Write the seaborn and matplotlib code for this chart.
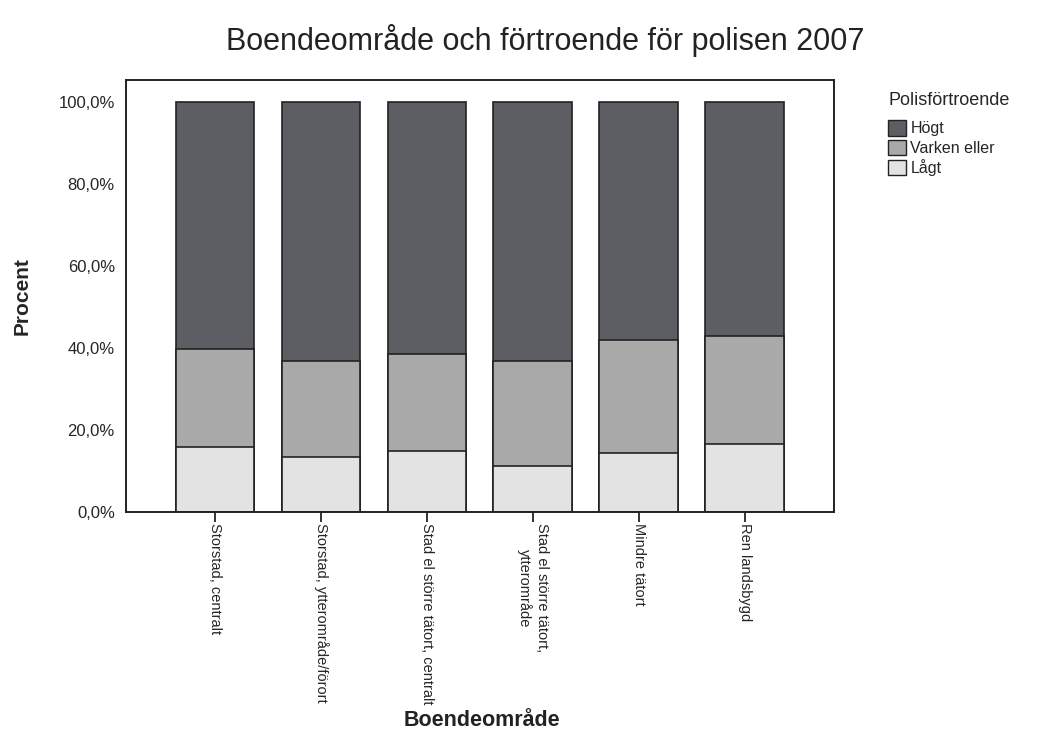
import matplotlib
matplotlib.use('Agg')
import matplotlib.pyplot as plt
import seaborn as sns
import pandas as pd
from matplotlib.ticker import FuncFormatter
from matplotlib.patches import Patch

# data (percent per area)
areas = ['Storstad, centralt', 'Storstad, ytterområde/förort',
         'Stad el större tätort, centralt', 'Stad el större tätort,\nytterområde',
         'Mindre tätort', 'Ren landsbygd']
lagt = [16.0, 13.6, 14.9, 11.4, 14.4, 16.6]
varken = [23.7, 23.4, 23.8, 25.5, 27.6, 26.4]
hogt = [60.3, 63.0, 61.3, 63.1, 58.0, 57.0]
levels = ['Högt', 'Varken eller', 'Lågt']
colors = ['#5d5d64', '#a9a9a9', '#e3e3e3']

df = pd.DataFrame({'area': areas, 'Lågt': lagt, 'Varken eller': varken, 'Högt': hogt})
df['cum_lagt'] = df['Lågt']
df['cum_varken'] = df['Lågt'] + df['Varken eller']
df['cum_hogt'] = df['cum_varken'] + df['Högt']

sns.set_style('white')
plt.rcParams['font.family'] = ['Liberation Sans', 'DejaVu Sans']

fig = plt.figure(figsize=(10.48, 7.31), dpi=100)
ax = fig.add_axes([0.1202, 0.2992, 0.6756, 0.5914])

# stacked bars drawn as overlapping cumulative totals
for col, c in zip(['cum_hogt', 'cum_varken', 'cum_lagt'], colors):
    sns.barplot(data=df, x='area', y=col, order=areas, color=c, ax=ax,
                width=0.745, edgecolor='#222222', linewidth=1.2, saturation=1)

ax.set_xlim(-0.84, 5.84)
ax.set_ylim(0, 105.4)
ax.set_yticks([0, 20, 40, 60, 80, 100])
ax.yaxis.set_major_formatter(FuncFormatter(lambda v, p: f'{v:.1f}%'.replace('.', ',')))
ax.tick_params(axis='y', length=7, width=1.3, color='#222222', labelsize=12, pad=1)
ax.tick_params(axis='x', length=7, width=1.3, color='#222222', labelsize=10.5, pad=1,
               bottom=True)
ax.set_xticks(range(len(areas)))
ax.set_xticklabels(areas, rotation=-90, va='top', ha='center')
for s in ax.spines.values():
    s.set_visible(True)
    s.set_linewidth(1.4)
    s.set_color('#222222')

ax.set_xlabel('')
ax.set_ylabel('Procent', fontsize=15, fontweight='bold', labelpad=19)
fig.text(0.46, 0.0, 'Boendeområde', fontsize=15.5, fontweight='bold', ha='center', va='bottom',
         color='#222222')
fig.text(0.52, 0.945, 'Boendeområde och förtroende för polisen 2007', fontsize=22,
         ha='center', va='center', color='#222222')

handles = [Patch(facecolor=c, edgecolor='#222222', label=l) for c, l in zip(colors, levels)]
leg = ax.legend(handles=handles, title='Polisförtroende', loc='upper left',
                bbox_to_anchor=(1.065, 0.99), frameon=False, fontsize=11.5, title_fontsize=13,
                handlelength=1.1, handleheight=1.1, handletextpad=0.3, labelspacing=0.2,
                borderpad=0)
leg._legend_box.align = 'left'
leg._legend_box.sep = 8

fig.savefig('out.png', dpi=100)
